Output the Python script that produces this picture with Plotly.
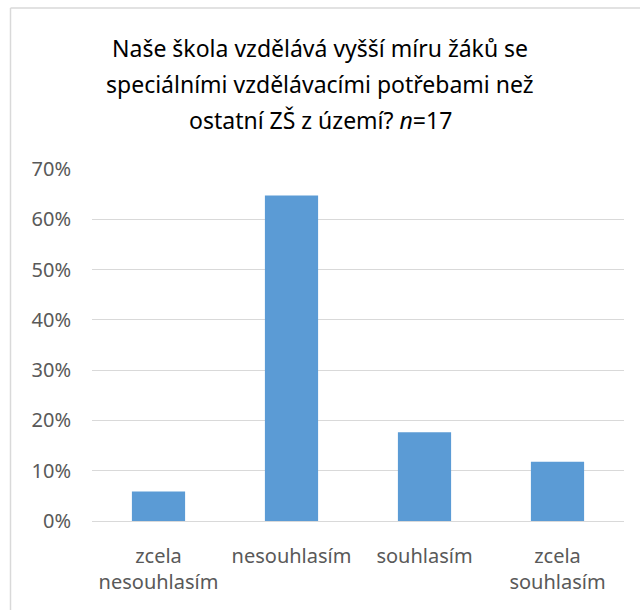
import plotly.graph_objects as go

categories = ["zcela<br>nesouhlasím", "nesouhlasím", "souhlasím", "zcela<br>souhlasím"]
values = [1/17, 11/17, 3/17, 2/17]
y_ticks = [0, 0.1, 0.2, 0.3, 0.4, 0.5, 0.6, 0.7]
y_tick_labels = ["0%", "10%", "20%", "30%", "40%", "50%", "60%", "70%"]
title_lines = [
    "Naše škola vzdělává vyšší míru žáků se",
    "speciálními vzdělávacími potřebami než",
    "ostatní ZŠ z území? <i>n</i>=17",
]

FONT = "Noto Sans"
W, H = 640, 610
L, R, T, B = 92, 16, 169, 89
plot_w = W - L - R
plot_h = H - T - B

def px(pix):
    return (pix - L) / plot_w

def py(pix):
    return (H - B - pix) / plot_h

fig = go.Figure(go.Bar(x=categories, y=values, marker=dict(color="#5b9bd5", line=dict(width=0)),
                       hoverinfo="skip"))

annotations = []
for line, ypix in zip(title_lines, [48, 84, 120]):
    annotations.append(dict(text=line, xref="paper", yref="paper", x=px(320), y=py(ypix),
                            xanchor="center", yanchor="middle", showarrow=False,
                            font=dict(family=FONT, size=23, color="#000000")))

border = dict(color="#d9d9d9", width=1.5)
shapes = [
    dict(type="line", xref="paper", yref="paper", x0=px(10.5), x1=px(W), y0=py(8), y1=py(8),
         line=border, layer="below"),
    dict(type="line", xref="paper", yref="paper", x0=px(10.5), x1=px(10.5), y0=py(8), y1=py(H),
         line=border, layer="below"),
]

fig.update_layout(
    width=W, height=H,
    margin=dict(l=L, r=R, t=T, b=B, pad=0),
    paper_bgcolor="white", plot_bgcolor="white",
    bargap=0.6,
    showlegend=False,
    annotations=annotations,
    shapes=shapes,
    xaxis=dict(showgrid=False, showline=False, zeroline=False, ticks="",
               tickfont=dict(family=FONT, size=20, color="#595959"), ticklabelstandoff=21,
               fixedrange=True),
    yaxis=dict(range=[0, 0.7], tickvals=y_ticks, ticktext=y_tick_labels, showgrid=True,
               gridcolor="#d9d9d9", gridwidth=1.3, zeroline=True, zerolinecolor="#d9d9d9", zerolinewidth=1.3,
               showline=False, ticks="",
               tickfont=dict(family=FONT, size=20, color="#595959"), ticklabelstandoff=20,
               fixedrange=True),
)

fig.write_html("out.html", config={"displayModeBar": False},
               post_script="document.body.style.margin='0';document.body.style.overflow='hidden';")
